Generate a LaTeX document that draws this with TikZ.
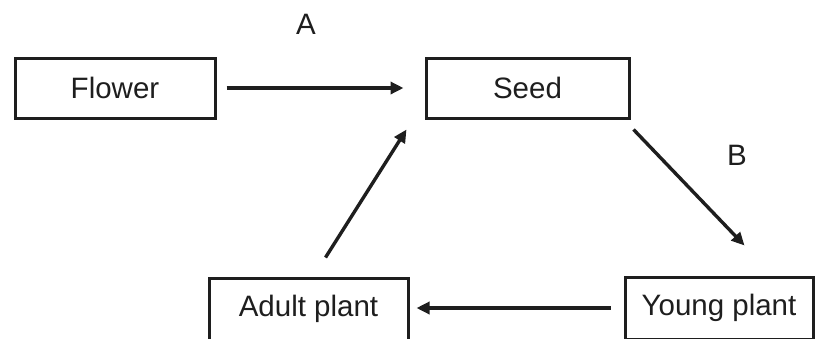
\documentclass[tikz,border=0pt]{standalone}
\usepackage{fontspec}
\setmainfont{Liberation Sans}
\usetikzlibrary{arrows.meta}
\definecolor{ink}{HTML}{1E1E1E}
\begin{document}
\begin{tikzpicture}[x=1pt,y=-1pt,
  stagebox/.style={draw=ink, line width=3pt, rectangle, inner sep=0pt,
    font=\fontsize{29.5}{34}\selectfont, text=ink},
  lbl/.style={font=\fontsize{29.5}{34}\selectfont, text=ink, inner sep=0pt},
  flow/.style={draw=ink, line width=3.4pt, -{Triangle[length=13pt,width=12pt]}}]
\useasboundingbox (0,0) rectangle (815,338);
\clip (0,0) rectangle (815,338);
\node[stagebox, minimum width=200pt, minimum height=60pt] (flower) at (115,88) {Flower};
\node[stagebox, minimum width=203pt, minimum height=60pt] (seed) at (527.5,88) {Seed};
\node[stagebox, minimum width=199pt, minimum height=62pt] (adult) at (308.5,309) {Adult plant};
\node[stagebox, minimum width=188pt, minimum height=62pt] (young) at (719,308) {Young plant};
\node[lbl] (la) at (306,24) {A};
\node[lbl] (lb) at (737,155) {B};
\draw[flow, shorten <=10pt, shorten >=21pt] (flower.east) -- (seed.west |- flower.east);
\draw[flow] ([shift={(3,10)}]seed.south east) -- ([shift={(121,-30)}]young.north west);
\draw[flow, shorten <=13pt, shorten >=7pt] (young.west) -- (adult.east |- young.west);
\draw[flow] ([shift={(118,-19)}]adult.north west) -- ([shift={(-18,10)}]seed.south west);
\end{tikzpicture}
\end{document}
